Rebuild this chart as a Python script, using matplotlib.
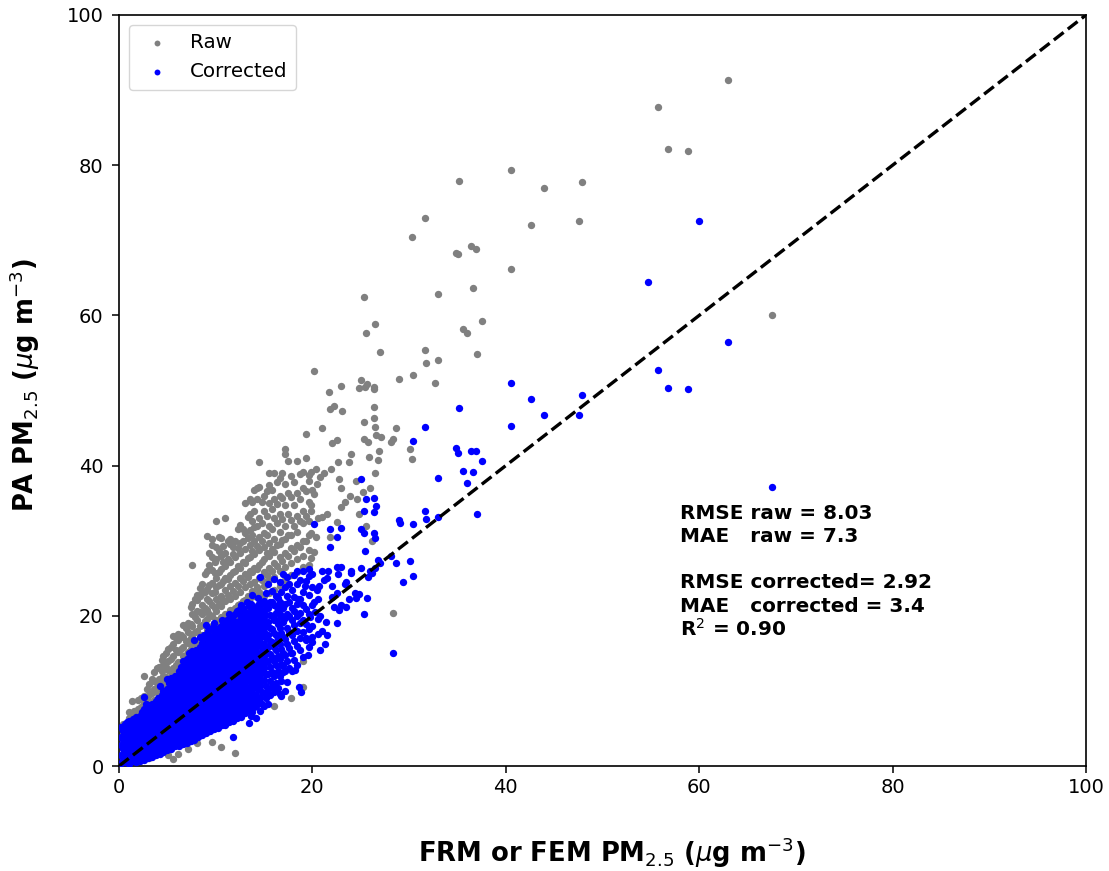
import matplotlib
matplotlib.use("Agg")
import matplotlib.pyplot as plt

# Isolated points
raw_sparse_x = [63,55.7,56.8,58.8,35.2,40.5,44,47.9,47.6,42.6,31.6,30.3,36.4,36.9,34.8,35.1,40.5,36.6,33,25.3,26.5,25.5,35.6,36,37.5,67.5,31.6,33,31.7,37,27,20.2,30.4,29,32.7,25,25.6,24.8,25.4,26.4,26.4,23,21.7,21.8,22.2,23.1,26.4,26.4,25.3,26.5,28.6,26.6,27.1,28.1,28.3,30.1,30.3,26.9,26.8,26.5,25.3,25.8,25.9,21,19.3,22.5,22,28.3,24,23.8,24.5,25.2,22.6,23,23.4,23.9,21.9,22.8,20.4,20.8,21.2,20.5,19.6,20,20.2,19.9,20.6,21.5,24.6,26,25.5,24.8,26.2,23,22.5,21.8,21,20.4,20.2]
raw_sparse_y = [91.3,87.8,82.2,81.9,77.9,79.4,77,77.7,72.6,72,73,70.5,69.3,68.8,68.3,68.2,66.2,63.6,62.9,62.5,58.8,57.6,58.2,57.7,59.2,60,55.4,54.1,53.6,54.9,55.1,52.6,52,51.5,51,51.4,50.9,50.3,50.4,50.5,50.2,50.6,49.8,47.5,48,47.3,47.8,46.3,45.8,45.2,45,44.1,43.8,43.2,43.5,42.2,40.9,42,40.8,39,43.5,43.2,41.2,45,44.2,43.4,43,20.4,41.5,40.5,38,36.5,40.5,37,35.2,36,39.5,38.2,39.5,38.5,39,37.5,38.8,36.8,36.2,34,33,33.5,35.5,37,32,33.5,30,34.5,32.5,30.5,33.2,30.5,28.5]

corr_sparse_x = [60,54.7,63,55.7,56.8,58.8,67.5,40.5,42.6,44,47.9,47.6,40.5,35.2,31.6,30.4,34.8,35.1,36.4,36.9,37.5,35.6,36.6,36,33,37,31.6,33,31.7,30.4,29,29.1,25,25.5,26.4,26.6,25.3,26.4,20.2,21.8,23,25,25.3,26.4,26.5,22.5,21.8,25.4,28.3,25.3,25.6,24.8,24.4,29.4,30.4,30.1,28.6,28.1,26.8,27,26.5,26,25.7,26.2,24,23,22.5,23.5,24,25,21,21.6,22,22.5,21.5,20,20.5,20.7,22.2,23,23.5,23.8,22.5,21.5,20.8,21.3,20,19.3,18.7,18.6,18.8,18.2,19.8,20.3,21,21.4,22,22.8,19.5,20.8,17.8,18.5,19.2,16.8,17.2,23.4,24.5,20.2,21.2,22.6]
corr_sparse_y = [72.6,64.5,56.5,52.7,50.3,50.2,37.2,51,48.9,46.8,49.4,46.7,45.3,47.7,45.1,43.3,42.3,41.7,42,41.9,40.6,39.3,39.2,37.7,38.3,33.6,34,33.2,32.9,32.2,32.7,32.4,38.2,35.6,35.7,34.6,33.9,33.8,32.2,31.5,31.7,31.5,31,31,30.3,30.5,29.2,28.6,15,20.2,22.4,22.9,23,24.5,25.3,27.3,27,28,27.4,27,26.3,26,25.1,25.7,26,26.5,26.5,24.5,25.7,26.4,26,26,24,23,25,25.5,23.5,24,21.2,21.5,21.2,22.2,19,17.5,15.5,16.3,17.2,17,19,10.5,9.8,12.8,19.8,20.5,18,19.2,22.5,20.8,14.8,20,15,22.2,24,9.3,10,24.2,22.4,21.8,24.8,25.5]

# Dense band, read column by column: FRM value -> PA readings
raw_columns = {
 0.4:[0.6,2.5,4.5,5.6], 1.0:[1.2,3.5,5.5,7.2,6.4], 1.5:[2,4,6.2,7.3], 2.0:[6.8,7.6,8.8], 2.6:[7.1,8.4,9.3,12],
 3.1:[1,8.2,9.5,10.9], 3.6:[8.8,10.2,11.3,12.5], 4.1:[10.3,11.6,13.2,9.2], 4.6:[10.8,12,13.4,14.6], 5.1:[11.3,12.8,14,15.6,1.5],
 5.6:[12,13.1,14.7,16.2,17.3,0.9], 6.1:[12.6,13.9,15.2,16.8,17.6,1.6], 6.6:[13.1,14.6,15.8,17.2,18.8], 7.1:[13.8,15.2,16.4,17.9,19.1,2.2],
 7.6:[14.9,16.1,17.4,18.6,20.3,21.6,26.8], 8.1:[15.3,16.6,18,19.4,20.7,22.1,22.8,3], 8.6:[16.1,17.5,18.8,20.2,21.4,23,24.2], 9.1:[16.9,18.1,19.6,20.8,22.3,23.6,25.9,30.6],
 9.6:[17.3,18.6,20,21.5,23,24.4,26.1,27.8,29.4,30.2,3.2], 10.0:[17.8,19.4,20.7,22.2,23.8,25,27.5,29.2,32.6], 10.5:[18.2,19.8,21.3,22.7,24.3,26.2,28,30.4,2.5], 11.0:[18.6,20.3,22,23.5,25,26.6,28.4,33],
 11.5:[19.2,20.8,22.3,24,25.4,27.2,29.5,30.2], 12.0:[19.5,21.1,22.7,24.4,26,27.8,1.7,30], 12.5:[20,21.6,23.2,25,26.4,28.3,29.7,32.1], 13.0:[20.5,22.1,23.8,25.5,27,28.9,31,35],
 13.5:[20.8,22.4,24.2,26,27.8,29.4,31.4,33.5,35.5], 14.0:[21.1,22.7,24.5,26.4,28.2,30,31.8,34,36.8], 14.5:[21.6,23.2,25,26.8,28.7,30.5,33,37.2,40.5], 15.0:[22.6,24,25.8,27.5,29.2,31,34,36],
 15.5:[23,24.8,26.3,28,29.7,32,35,37.4,39], 16.0:[23.4,25.2,27,28.5,30.2,33,35.5,8,39], 16.6:[24,26,27.8,29.6,31.2,33.5,36,38.3], 17.2:[24.8,26.5,28.4,30.2,32,34.8,42.2,41.5,37.5],
 17.8:[25.4,27,29,30.8,32.8,35.8,38.6,9], 18.4:[25.8,27.6,29.4,31.2,33.3,36.4,40.6], 19.0:[26.5,28,30,32.4,34,37,39.2,10.5,14],
 19.6:[26.8,28.8,30.8,32.6,35.2,38],
}
raw_fill_columns = {
 1.3:[6.9,8.7], 2.3:[7.8,9.1], 2.9:[8.9,10.3], 3.4:[9.7,11.6,2.4], 3.9:[9.9,11.1,13.1], 4.4:[11.2,12.6,14.1], 4.9:[11.9,13.2,15.1],
 5.4:[12.5,14.3,15.9], 5.9:[13.4,15.4,17.1], 6.4:[13.9,15.6,17.4], 6.9:[14.8,16.7,18.4], 7.4:[15.6,17.1,18.9,21.2], 7.9:[15.9,17.8,19.8,22.3],
 8.4:[16.9,18.6,20.5,22.6,23.7], 8.9:[17.5,19.3,21.1,23.2,25.6], 9.3:[18.1,20.2,22,24.1,26.7,28.3], 9.9:[18.9,21,23.2,25.7,27.2], 10.3:[19.1,21.6,24.1,25.8,28.6,30.5],
 10.8:[19.7,22.1,24.7,27.1,29.3], 11.3:[20.2,22.8,24.9,27.5,30], 11.8:[20.8,23.3,25.8,28.2,29.1], 12.3:[21.4,24,26.6,29,31.6], 12.8:[22,24.6,27.2,29.9,31.5],
 13.3:[22.7,25.2,27.7,30.4,33.2], 13.8:[23.3,25.8,28.6,30.8,32.6,35.1], 14.3:[23.9,26.2,29.3,31.9,35.6,37], 14.8:[24.8,27.2,29.9,32.4,35.1], 15.3:[25.4,28.4,30.7,33.3,36.6],
 15.8:[26,28.9,31.6,34.2,36.7], 16.3:[26.6,29.4,32.3,34.9,37.8], 16.9:[27.3,30.1,32.9,35.7,39], 17.5:[28,30.7,33.6,36.4,40.6], 18.1:[28.6,31.9,34.7,37.8], 18.7:[29.2,32.6,35.5,38.9],
 19.3:[29.9,33.3,36.6,41], 19.9:[27.7,31,34.8,39.2],
}
corr_columns = {
 0.2:[0.4,1.5,2.8,3.9,5.2], 0.6:[0.5,1.2,2.2,3.2,4.4,5.6], 1.0:[0.3,1.1,2,3,4,5,6], 1.4:[0.6,1.5,2.4,3.4,4.4,5.4,6.2], 1.8:[0.5,1.3,2.2,3.2,4.2,5.2,6.5],
 2.2:[0.7,1.7,2.7,3.6,4.6,5.6,6.6], 2.6:[0.8,1.6,2.5,3.5,4.5,5.5,6.5,7.6,9.2], 3.0:[1,2,3,4,5,6,7,8.1], 3.4:[1.2,2.2,3.2,4.2,5.1,6.2,7.2,8.3],
 3.8:[1.5,2.4,3.4,4.3,5.3,6.4,7.4,8.6], 4.2:[1.6,2.6,3.6,4.6,5.6,6.6,7.6,8.6,10.7], 4.6:[1.9,2.9,3.9,4.9,5.8,6.9,7.9,9,10], 5.0:[2.1,3.1,4.1,5.1,6.2,7.1,8.2,9.2,10.3,11.6],
 5.4:[2.2,3.3,4.4,5.4,6.4,7.5,8.5,9.5,10.5,11.7], 5.8:[2.6,3.6,4.6,5.7,6.7,7.7,8.8,9.9,11,12], 6.2:[2.6,3.7,4.8,5.9,7,8.1,9.1,10.2,11.3,12.7], 6.6:[2.9,4,5.1,6.2,7.3,8.4,9.4,10.5,11.6,12.8,14],
 7.0:[3.1,4.2,5.3,6.4,7.5,8.6,9.7,10.8,11.9,13,14.2], 7.4:[3.3,4.5,5.6,6.7,7.8,8.9,10,11.1,12.2,13.3,14.5], 7.8:[3.4,4.6,5.8,7,8.1,9.2,10.3,11.4,12.5,13.6,14.8,16.8], 8.2:[3.9,5,6.2,7.3,8.4,9.5,10.6,11.7,12.8,13.9,15.1],
 8.6:[4.1,5.2,6.4,7.5,8.7,9.8,10.9,12,13.1,14.2,15.3,16.4], 9.0:[4.4,5.5,6.7,7.8,9,10.1,11.2,12.3,13.4,14.5,15.6,17,18.8], 9.4:[4.6,5.8,7,8.1,9.3,10.4,11.5,12.6,13.7,14.8,16,17.2], 9.8:[4.9,6,7.2,8.4,9.6,10.7,11.8,12.9,14,15.1,16.3,17.6,19],
 10.2:[5,6.2,7.4,8.6,9.8,11,12.1,13.2,14.3,15.4,16.6,17.8], 10.6:[5.4,6.6,7.8,9,10.2,11.3,12.4,13.5,14.6,15.8,17,18.3,19.4], 11.0:[5.5,6.8,8,9.2,10.4,11.6,12.7,13.8,15,16.2,17.4,18.6], 11.4:[5.9,7.1,8.3,9.5,10.7,11.9,13,14.1,15.3,16.5,17.7,18.9,20.2],
 11.8:[6,7.3,8.5,9.7,10.9,12.1,13.3,14.5,15.7,16.9,18.1,19.4,3.9], 12.2:[6.4,7.7,8.9,10.1,11.3,12.5,13.7,14.9,16.1,17.3,18.5,20.6], 12.6:[6.5,7.9,9.1,10.3,11.5,12.8,14,15.2,16.4,17.6,18.8,20,21.4], 13.0:[7,8.3,9.5,10.7,12,13.2,14.4,15.6,16.8,18,19.2,20.5],
 13.4:[5.7,7.4,8.8,10,11.3,12.5,13.8,15,16.2,17.4,18.7,20,21.3], 13.8:[7.2,8.5,9.9,11.2,12.5,13.8,15,16.4,17.8,19,20.3,22.8], 14.2:[6.4,8,9.5,11,12.4,13.8,15.2,16.6,18,19.4,20.8], 14.6:[7.3,9,10.6,12.1,13.6,15,16.5,18,19.4,20.9,25.2],
 15.0:[8,9.7,11.4,13,14.6,16.2,17.8,19.3,20.8,22], 15.4:[8.2,10.3,12.2,14,15.8,17.5,19.2,21,24.2], 15.8:[10.5,12.5,14.5,16.5,18.3,20,21.8,23.3], 16.2:[11,13.5,15.5,17.5,19.5,21.3,20.4,22.7],
 16.6:[9.6,12,14.2,16.3,18.4,20.3,21.8,24.5], 17.0:[12.5,15,17.2,19.2,21,25.5,13.5], 17.4:[11.2,14,16.3,18.4,20.3,22.6,25.2], 17.9:[12.6,15.1,17.5,19.4,21,23.5], 18.4:[13.5,16,18,20,21.6,24.3,26],
 19.0:[14.5,17.8,19.5,21.5,23.2,26], 19.6:[15.8,18.2,20.3,22.8,25.3,26.2],
}
corr_fill_columns = {
 0.4:[1,2.3,3.4,4.7], 0.8:[0.9,1.7,2.6,3.7,4.8,5.9], 1.2:[0.8,1.6,2.5,3.5,4.5,5.7], 1.6:[1,1.9,2.9,3.9,4.9,5.8], 2.0:[1.1,2.1,3.1,4.1,5.1,6.2],
 2.4:[1.2,2.2,3.2,4.2,5.2,6.1,7.2], 2.8:[1.3,2.1,3.1,4,5,6,7.1,8.3], 3.2:[1.5,2.5,3.5,4.6,5.6,6.6,7.7], 3.6:[1.9,2.8,3.8,4.8,5.8,6.8,7.9],
 4.0:[2.1,3,4,5,6,7,8.1,9.1], 4.4:[2.2,3.2,4.2,5.2,6.2,7.2,8.2,9.4], 4.8:[2.5,3.5,4.5,5.5,6.5,7.5,8.6,9.7], 5.2:[2.7,3.7,4.7,5.8,6.8,7.8,8.8,9.9,11],
 5.6:[2.9,4,5,6,7.1,8.1,9.2,10.3,11.3], 6.0:[3.1,4.2,5.3,6.3,7.4,8.4,9.5,10.6,11.7,8], 6.4:[3.3,4.4,5.5,6.6,7.7,8.8,9.8,10.9,12,13.2], 6.8:[3.6,4.7,5.8,6.9,8,9,10.1,11.2,12.3,13.4],
 7.2:[3.8,4.9,6,7.1,8.2,9.3,10.4,11.5,12.6,13.7,15.1], 7.6:[3.9,5.1,6.2,7.4,8.5,9.6,10.7,11.8,12.9,14,15.3], 8.0:[4.3,5.5,6.6,7.7,8.8,9.9,11,12.1,13.2,14.3,15.5], 8.4:[4.6,5.7,6.9,8,9.1,10.2,11.3,12.4,13.5,14.6,15.8,17.2],
 8.8:[4.8,5.9,7.1,8.3,9.4,10.5,11.6,12.7,13.8,14.9,16.1,17.5], 9.2:[5.1,6.2,7.4,8.6,9.7,10.8,11.9,13,14.1,15.2,16.4,18], 9.6:[5.3,6.5,7.7,8.9,10,11.1,12.2,13.3,14.4,15.5,16.7,18.4], 10.0:[5.6,6.7,7.9,9.1,10.3,11.4,12.5,13.6,14.7,15.9,17.1,18.3],
 10.4:[5.8,7,8.2,9.4,10.6,11.7,12.8,13.9,15,16.1,17.3,18.5], 10.8:[6.1,7.3,8.5,9.7,10.9,12,13.1,14.2,15.3,16.5,17.7,19], 11.2:[6.3,7.5,8.7,9.9,11.1,12.3,13.4,14.5,15.7,16.9,18.1,19.5], 11.6:[6.6,7.8,9,10.2,11.4,12.6,13.7,14.9,16.1,17.3,18.5,19.9],
 12.0:[6.8,8,9.2,10.5,11.7,12.9,14.1,15.3,16.5,17.7,19,20.3], 12.4:[7.2,8.4,9.6,10.8,12,13.2,14.4,15.6,16.8,18,19.3,20.8], 12.8:[7.5,8.7,9.9,11.1,12.4,13.6,14.8,16,17.2,18.4,19.7,21], 13.2:[7.7,9,10.2,11.4,12.7,13.9,15.1,16.3,17.5,18.7,20,21.8],
 13.6:[6.6,8,9.3,10.6,11.9,13.1,14.4,15.7,16.9,18.2,19.5,20.7,21.6], 14.0:[7.8,9.1,10.5,11.9,13.2,14.5,15.8,17.1,18.5,19.7,21.1], 14.4:[8.7,10.2,11.7,13.1,14.5,16,17.3,18.7,20.1,21.5,22.4], 14.8:[8.2,9.8,11.3,12.8,14.3,15.8,17.3,18.7,20.1,21.7],
 15.2:[9,10.6,12.3,13.9,15.4,17,18.6,20.1,21.5,23], 15.6:[9.4,11.3,13.2,14.9,16.7,18.4,20.1,21.9], 16.0:[9.9,12,14,15.9,17.7,19.5,21.5,24.9], 16.4:[10.4,12.6,14.7,16.9,18.9,20.8,22.4],
 16.8:[11.3,13.4,15.6,17.7,19.8,21.5,23.2], 17.2:[12.6,14.8,16.9,19.7,21.6,23.8], 17.6:[13,15.7,17.9,20,21.9,24.3], 18.1:[14.1,16.7,18.8,20.7,22.5,25.4], 18.7:[15.5,17.1,20.4,22.3,24.8],
 19.3:[16.8,18.9,20.9,24.6], 20.0:[16.5,18.6,21.4,23.8], 20.6:[17.6,19.6,22.2],
}

raw_x = raw_sparse_x + [k for c in (raw_columns, raw_fill_columns) for k, ys in c.items() for _ in ys]
raw_y = raw_sparse_y + [y for c in (raw_columns, raw_fill_columns) for ys in c.values() for y in ys]
corr_x = corr_sparse_x + [k for c in (corr_columns, corr_fill_columns) for k, ys in c.items() for _ in ys]
corr_y = corr_sparse_y + [y for c in (corr_columns, corr_fill_columns) for ys in c.values() for y in ys]

line_ends = [0, 100]
ticks = [0, 20, 40, 60, 80, 100]

fig = plt.figure(figsize=(11.09, 8.71), dpi=100)
ax = fig.add_axes([119/1109, 1-766/871, (1086-119)/1109, (766-15)/871])
ax.scatter(raw_x, raw_y, s=28, color="gray", linewidths=0, label="Raw", zorder=2)
ax.scatter(corr_x, corr_y, s=28, color="blue", linewidths=0, label="Corrected", zorder=3)
ax.plot(line_ends, line_ends, color="black", ls="--", lw=2.4, zorder=4)
ax.set_xlim(0, 100)
ax.set_ylim(0, 100)
ax.set_xticks(ticks)
ax.set_yticks(ticks)
ax.tick_params(labelsize=14, length=5, width=1.1)
ax.tick_params(axis="y", pad=6)
for s in ax.spines.values():
    s.set_linewidth(1.2)
ax.set_xlabel(r"FRM or FEM PM$_{2.5}$ ($\mu$g m$^{-3}$)", fontsize=18.6, fontweight="bold")
ax.set_ylabel(r"PA PM$_{2.5}$ ($\mu$g m$^{-3}$)", fontsize=18.6, fontweight="bold")
ax.xaxis.set_label_coords(0.51, -0.115, transform=ax.transAxes)
ax.yaxis.set_label_coords(-0.097, 0.5067, transform=ax.transAxes)
ax.xaxis.label.set_verticalalignment("center")
ax.yaxis.label.set_verticalalignment("center")
ax.legend(loc="upper left", fontsize=14.3, borderaxespad=0.5, handletextpad=0.65, borderpad=0.42, markerscale=0.8, labelspacing=0.5)
for xv, yv, txt in [(58, 33.6, "RMSE raw = 8.03"), (58, 30.5, "MAE   raw = 7.3"),
                    (58, 24.4, "RMSE corrected= 2.92"), (58, 21.3, "MAE   corrected = 3.4"),
                    (58, 18.2, r"R$^2$ = 0.90")]:
    ax.text(xv, yv, txt, fontsize=14.4, fontweight="bold", va="center", zorder=5)
fig.savefig("out.png", dpi=100)
